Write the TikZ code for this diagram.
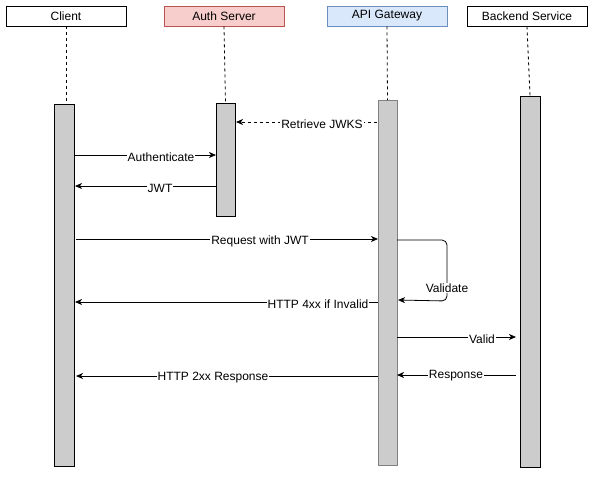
\documentclass[tikz,border=0pt]{standalone}
\usepackage{fontspec}
\setmainfont{Liberation Sans}
\usetikzlibrary{arrows.meta}
\definecolor{authfill}{HTML}{F8CECC}
\definecolor{authline}{HTML}{B85450}
\definecolor{apifill}{HTML}{DAE8FC}
\definecolor{apiline}{HTML}{6C8EBF}
\definecolor{barfill}{HTML}{CCCCCC}
\tikzset{
  head/.style={draw=black, fill=white, minimum width=120pt, minimum height=20pt, inner sep=0pt, font=\fontsize{12}{14}\selectfont, line width=0.8pt},
  life/.style={dashed, line width=0.8pt, dash pattern=on 3pt off 3pt},
  bar/.style={draw=black, fill=barfill, line width=0.8pt},
  msg/.style={line width=0.8pt, -{Stealth[length=7pt,width=6pt,inset=2pt]}},
  lbl/.style={fill=white, inner sep=1pt, font=\fontsize{12}{14}\selectfont}
}
\begin{document}
\begin{tikzpicture}[x=1pt,y=-1pt]
\useasboundingbox (0,0) rectangle (596,483);
% headers
\node[head] (client) at (66,16) {Client};
\node[head, fill=authfill, draw=authline] (auth) at (224,16) {Auth Server};
\node[head, fill=apifill, draw=apiline] (api) at (387,16) {API Gateway};
\node[head] (backend) at (527,16) {Backend Service};
% activation bars
\draw[bar] (54,104) rectangle (74,466);
\draw[bar] (216,103) rectangle (235,216);
\draw[bar, draw=gray] (378,100) rectangle (397,465);
\draw[bar] (520,96) rectangle (540,467);
\coordinate (cbt) at (66,104);
\coordinate (abt) at (225.5,103);
\coordinate (gbt) at (387.5,100);
\coordinate (bbt) at (530,96);
% lifelines
\draw[life] (client.south) -- (cbt);
\draw[life] (auth.south) -- (abt);
\draw[life] (api.south) -- (gbt);
\draw[life] (backend.south) -- (bbt);
% message end points
\coordinate (g1) at (377,122); \coordinate (a1) at (236,122);
\coordinate (c2) at (74,155); \coordinate (a2) at (216,155);
\coordinate (a3) at (216,186); \coordinate (c3) at (75,186);
\coordinate (c4) at (76,239); \coordinate (g4) at (378,239);
\coordinate (g5) at (397,240); \coordinate (g5b) at (398,300);
\coordinate (g6) at (378,302); \coordinate (c6) at (75,302);
\coordinate (g7) at (397,337); \coordinate (b7) at (516,337);
\coordinate (b8) at (516,375); \coordinate (g8) at (397,375);
\coordinate (g9) at (378,376); \coordinate (c9) at (76,376);
% messages
\draw[msg, dashed, dash pattern=on 3pt off 3pt] (g1) -- (a1);
\node[lbl] (l1) at (322,124) {Retrieve JWKS};
\draw[msg] (c2) -- (a2);
\node[lbl] (l2) at (161,157) {Authenticate};
\draw[msg] (a3) -- (c3);
\node[lbl] (l3) at (160,188) {JWT};
\draw[msg] (c4) -- (g4);
\node[lbl] (l4) at (260,241) {Request with JWT};
\draw[msg, rounded corners=5pt] (g5) -- (447,240) -- (447,301) -- (g5b);
\node[lbl] (l5) at (447,288) {Validate};
\draw[msg] (g6) -- (c6);
\node[lbl] (l6) at (318,304) {HTTP 4xx if Invalid};
\draw[msg] (g7) -- (b7);
\node[lbl] (l7) at (482,339) {Valid};
\draw[msg] (b8) -- (g8);
\node[lbl] (l8) at (456,376) {Response};
\draw[msg] (g9) -- (c9);
\node[lbl] (l9) at (213,378) {HTTP 2xx Response};
\end{tikzpicture}
\end{document}
